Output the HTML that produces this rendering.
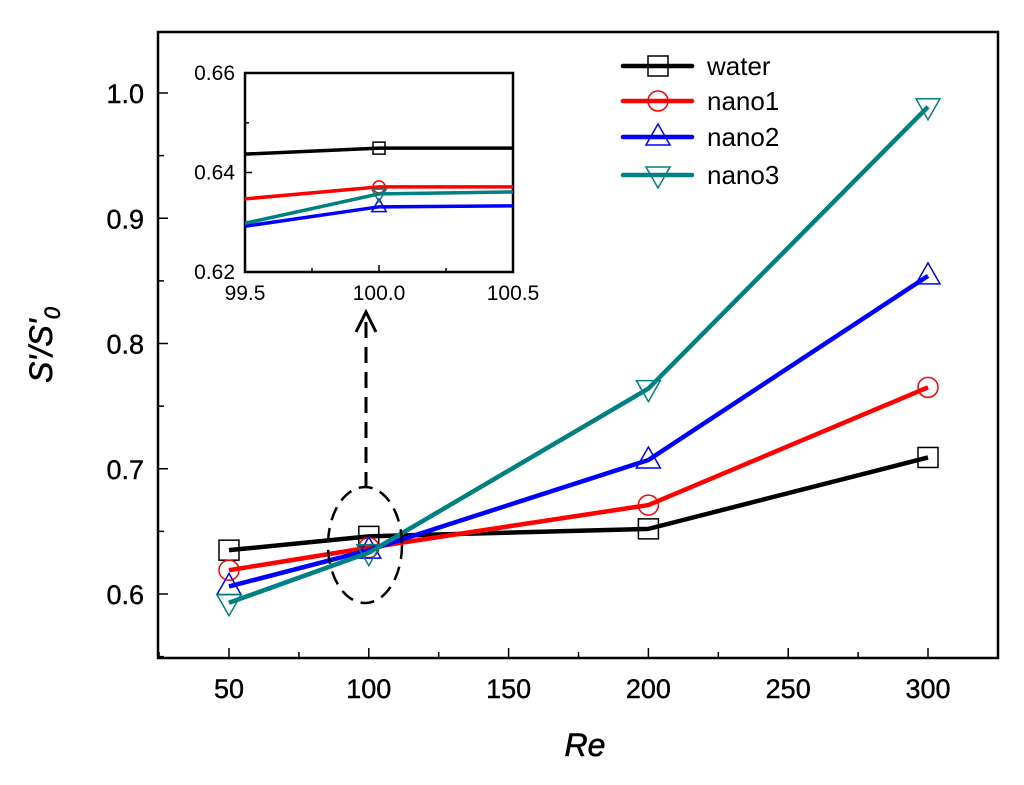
<!DOCTYPE html>
<html><head><meta charset="utf-8"><style>
html,body{margin:0;padding:0;background:#fff;}
svg text{font-family:"Liberation Sans",Arial,sans-serif;}
</style></head><body>
<svg id="chart" width="1024" height="780" viewBox="0 0 1024 780">
<rect x="0" y="0" width="1024" height="780" fill="#fff"/>
<g id="main"></g>
<g id="inset"></g>
<ellipse cx="365" cy="545" rx="37" ry="58" fill="none" stroke="#000" stroke-width="2.5" stroke-dasharray="14,8"/>
<line x1="366" y1="488" x2="366" y2="318" stroke="#000" stroke-width="3" stroke-dasharray="16,9"/>
<polyline points="356,332 366,312 376,332" fill="none" stroke="#000" stroke-width="3"/>
<text x="585" y="756" font-size="32" font-style="italic" text-anchor="middle" stroke="#000" stroke-width="0.6">Re</text>
<text transform="translate(52,345) rotate(-90)" font-size="32" font-style="italic" text-anchor="middle" stroke="#000" stroke-width="0.6">S'/S'<tspan font-size="22" dy="8">0</tspan></text>
<g id="legend"></g>
</svg>
<script>
const seriesNames=["water","nano1","nano2","nano3"];
const colors=["#000000","#ff0000","#0000ff","#008080"];
const markers=["square","circle","up","down"];
const xValues=[50,100,200,300];
const water=[0.635,0.646,0.652,0.709];
const nano1=[0.619,0.637,0.671,0.765];
const nano2=[0.606,0.635,0.707,0.854];
const nano3=[0.593,0.633,0.764,0.989];
const xTicks=[50,100,150,200,250,300];
const yTicks=[0.6,0.7,0.8,0.9,1.0];
const insetX=[99.5,100,100.5];
const insetWater=[0.6437,0.6449,0.6449];
const insetNano1=[0.6347,0.6371,0.6371];
const insetNano2=[0.6292,0.6331,0.6333];
const insetNano3=[0.6298,0.6357,0.6361];
const insetXTicks=["99.5","100.0","100.5"];
const insetYTicks=["0.62","0.64","0.66"];

const NS="http://www.w3.org/2000/svg";
function mk(tag,attrs,parent){const e=document.createElementNS(NS,tag);for(const k in attrs)e.setAttribute(k,attrs[k]);parent.appendChild(e);return e;}
function marker(g,type,cx,cy,r,color){
  let e;
  if(type==="square")e=mk("rect",{x:cx-r,y:cy-r,width:2*r,height:2*r,fill:"none",stroke:color,"stroke-width":1.5},g);
  else if(type==="circle")e=mk("circle",{cx:cx,cy:cy,r:r,fill:"none",stroke:color,"stroke-width":1.5},g);
  else if(type==="up")e=mk("polygon",{points:`${cx},${cy-r*1.3} ${cx-r*1.2},${cy+r*0.8} ${cx+r*1.2},${cy+r*0.8}`,fill:"none",stroke:color,"stroke-width":1.5},g);
  else e=mk("polygon",{points:`${cx},${cy+r*1.3} ${cx-r*1.2},${cy-r*0.8} ${cx+r*1.2},${cy-r*0.8}`,fill:"none",stroke:color,"stroke-width":1.5},g);
  return e;
}
const L=158,R=998,T=32,B=658;
const xs=v=>229+(v-50)*(928-229)/250;
const ys=v=>594-(v-0.6)*1252.5;
const main=document.getElementById("main");
let fr=mk("rect",{x:L,y:T,width:R-L,height:B-T,fill:"none",stroke:"#000","stroke-width":2.5},main);

for(let v=25;v<=325;v+=25){const x=xs(v);if(x<=L||x>=R)continue;const len=(v%50===0)?10:6;
  mk("line",{x1:x,y1:B,x2:x,y2:B-len,stroke:"#000","stroke-width":1.5},main);}
xTicks.forEach(v=>{const t=mk("text",{x:xs(v),y:B+40,"font-size":27,"text-anchor":"middle",stroke:"#000","stroke-width":0.4},main);t.textContent=v;
  });
for(let v=0.55;v<=1.05;v+=0.05){const y=ys(v);if(y<=T||y>=B)continue;const maj=Math.abs(Math.round(v*10)-v*10)<0.01;
  mk("line",{x1:L,y1:y,x2:L+(maj?10:6),y2:y,stroke:"#000","stroke-width":1.5},main);}
yTicks.forEach(v=>{const t=mk("text",{x:L-14,y:ys(v)+10,"font-size":27,"text-anchor":"end",stroke:"#000","stroke-width":0.4},main);t.textContent=v.toFixed(1);
  });
const allSeries=[water,nano1,nano2,nano3];
allSeries.forEach((s,i)=>{
  const g=mk("g",{},main);
  
  
  const pl=mk("polyline",{points:s.map((v,j)=>xs(xValues[j])+","+ys(v)).join(" "),fill:"none",stroke:colors[i],"stroke-width":4.5,"stroke-linejoin":"round"},g);
  
  
  s.forEach((v,j)=>{const m=marker(g,markers[i],xs(xValues[j]),ys(v),10,colors[i]);
    
    });
});
const iL=245,iR=513,iT=73,iB=272;
const ixs=v=>iL+(v-99.5)*(iR-iL);
const iys=v=>iB-(v-0.62)*(iB-iT)/0.04;
const inset=document.getElementById("inset");


mk("rect",{x:iL,y:iT,width:iR-iL,height:iB-iT,fill:"#fff",stroke:"#000","stroke-width":2.5},inset);
[99.5,99.75,100,100.25,100.5].forEach((v,k)=>{const x=ixs(v);mk("line",{x1:x,y1:iB,x2:x,y2:iB-(k%2?4:7),stroke:"#000","stroke-width":1.5},inset);});
insetXTicks.forEach(s=>{const t=mk("text",{x:ixs(parseFloat(s)),y:iB+28,"font-size":21,"text-anchor":"middle"},inset);t.textContent=s;
  });
[0.62,0.63,0.64,0.65,0.66].forEach((v,k)=>{const y=iys(v);mk("line",{x1:iL,y1:y,x2:iL+(k%2?4:7),y2:y,stroke:"#000","stroke-width":1.5},inset);});
insetYTicks.forEach(s=>{const t=mk("text",{x:iL-10,y:iys(parseFloat(s))+7,"font-size":21,"text-anchor":"end"},inset);t.textContent=s;
  });
[insetWater,insetNano1,insetNano2,insetNano3].forEach((s,i)=>{
  const pl=mk("polyline",{points:s.map((v,j)=>ixs(insetX[j])+","+iys(v)).join(" "),fill:"none",stroke:colors[i],"stroke-width":3.5},inset);
  
  
  const m=marker(inset,markers[i],ixs(insetX[1]),iys(s[1]),6,colors[i]);
  
  
});
const lg=document.getElementById("legend");
const rowsY=[66,101,137,175];
seriesNames.forEach((n,i)=>{
  const g=mk("g",{},lg);
  
  
  mk("line",{x1:623,y1:rowsY[i],x2:692,y2:rowsY[i],stroke:colors[i],"stroke-width":4.5,"stroke-linecap":"round"},g);
  marker(g,markers[i],658,rowsY[i],10,colors[i]);
  const t=mk("text",{x:707,y:rowsY[i]+9,"font-size":26},g);t.textContent=n;
});
</script>
</body></html>
